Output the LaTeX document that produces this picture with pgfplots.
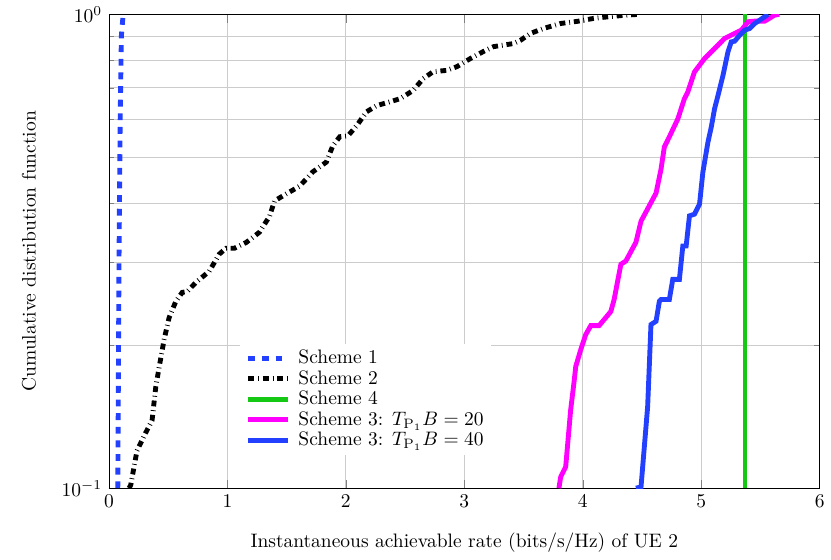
\documentclass[border=0pt]{standalone}
\usepackage{pgfplots}
\pgfplotsset{compat=1.18}
\definecolor{sblue}{RGB}{36,64,255}
\definecolor{sgreen}{RGB}{20,200,20}
\definecolor{smagenta}{RGB}{255,0,255}
\begin{document}
\begin{tikzpicture}
\begin{axis}[
  width=365pt, height=243.3pt, scale only axis,
  xmin=0, xmax=6, ymin=0.1, ymax=1, ymode=log,
  xtick={0,1,2,3,4,5,6},
  grid=both,
  major grid style={gray!40},
  minor grid style={gray!40},
  xlabel={Instantaneous achievable rate (bits/s/Hz) of UE 2},
  ylabel={Cumulative distribution function},
  xlabel style={yshift=-6.3pt},
  ylabel style={yshift=6.3pt},
  legend cell align=left,
  legend image code/.code={\draw[#1] (0.12cm,0cm) -- (0.84cm,0cm);},
  legend style={at={(0.184,0.07)}, anchor=south west, draw=none, fill=white,
    nodes={inner sep=1pt},
    /tikz/every odd column/.append style={column sep=3pt}},
]
% Scheme 1
\addplot[sblue, line width=2.5pt, dash pattern=on 3.5pt off 3.5pt] coordinates {
(0.075,0.1) (0.085,0.3) (0.095,0.6) (0.105,0.9) (0.12,1)
};
% Scheme 2
\addplot[black, line width=2.5pt, dash pattern=on 3pt off 2pt on 0.4pt off 2pt] coordinates {
(0.17,0.1) (0.184,0.1015) (0.237,0.120) (0.311,0.131) (0.364,0.139) (0.396,0.164)
(0.424,0.180) (0.466,0.206) (0.508,0.229) (0.565,0.248) (0.619,0.259) (0.661,0.260)
(0.735,0.272) (0.847,0.287) (0.932,0.312) (0.989,0.321) (1.059,0.321) (1.158,0.330)
(1.271,0.347) (1.356,0.375) (1.398,0.404) (1.497,0.418) (1.610,0.434) (1.720,0.465)
(1.836,0.488) (1.890,0.528) (1.949,0.552) (2.017,0.554) (2.091,0.582) (2.175,0.623)
(2.260,0.642) (2.373,0.654) (2.458,0.664) (2.568,0.691) (2.653,0.732) (2.737,0.757)
(2.853,0.762) (2.938,0.776) (3.051,0.807) (3.161,0.835) (3.246,0.855) (3.415,0.868)
(3.475,0.882) (3.559,0.912) (3.669,0.934) (3.814,0.957) (3.955,0.967) (4.093,0.981)
(4.237,0.990) (4.379,0.997) (4.464,1.0)
};
% Scheme 4
\addplot[sgreen, line width=2.5pt] coordinates {
(5.37,0.1) (5.37,1)
};
% Scheme 3, T B = 20
\addplot[smagenta, line width=2.5pt] coordinates {
(3.799,0.1) (3.814,0.1057) (3.856,0.1109) (3.898,0.1463) (3.926,0.167) (3.941,0.1807)
(3.983,0.196) (4.025,0.2109) (4.068,0.2204) (4.138,0.2204) (4.181,0.227) (4.237,0.236)
(4.265,0.2502) (4.322,0.2969) (4.364,0.3017) (4.449,0.3304) (4.492,0.3661) (4.619,0.4196)
(4.661,0.4717) (4.689,0.5253) (4.731,0.5515) (4.803,0.602) (4.858,0.6637) (4.887,0.6859)
(4.943,0.756) (5.028,0.8068) (5.113,0.847) (5.197,0.8896) (5.282,0.9116) (5.339,0.9263)
(5.396,0.965) (5.452,0.968) (5.536,0.968) (5.621,0.997) (5.66,1.0)
};
% Scheme 3, T B = 40
\addplot[sblue, line width=2.5pt] coordinates {
(4.449,0.1) (4.492,0.1006) (4.548,0.1487) (4.576,0.2215) (4.619,0.2251) (4.647,0.2481)
(4.661,0.2502) (4.731,0.2502) (4.760,0.2759) (4.816,0.2759) (4.845,0.3245) (4.873,0.3245)
(4.901,0.3757) (4.943,0.3788) (4.986,0.3978) (5.014,0.4642) (5.057,0.5375) (5.085,0.5782)
(5.113,0.6325) (5.142,0.6745) (5.184,0.7436) (5.226,0.8336) (5.254,0.8753) (5.282,0.878)
(5.325,0.904) (5.367,0.9263) (5.409,0.934) (5.452,0.957) (5.494,0.9725) (5.536,0.989)
(5.565,1.0)
};
\legend{Scheme 1, Scheme 2, Scheme 4, {Scheme 3: $T_{\mathrm{P}_1}B=20$}, {Scheme 3: $T_{\mathrm{P}_1}B=40$}}
\end{axis}
% blank margin on the left, as in the reference
\path (current bounding box.south west) ++(-7.9pt,0pt);
\end{tikzpicture}
\end{document}
